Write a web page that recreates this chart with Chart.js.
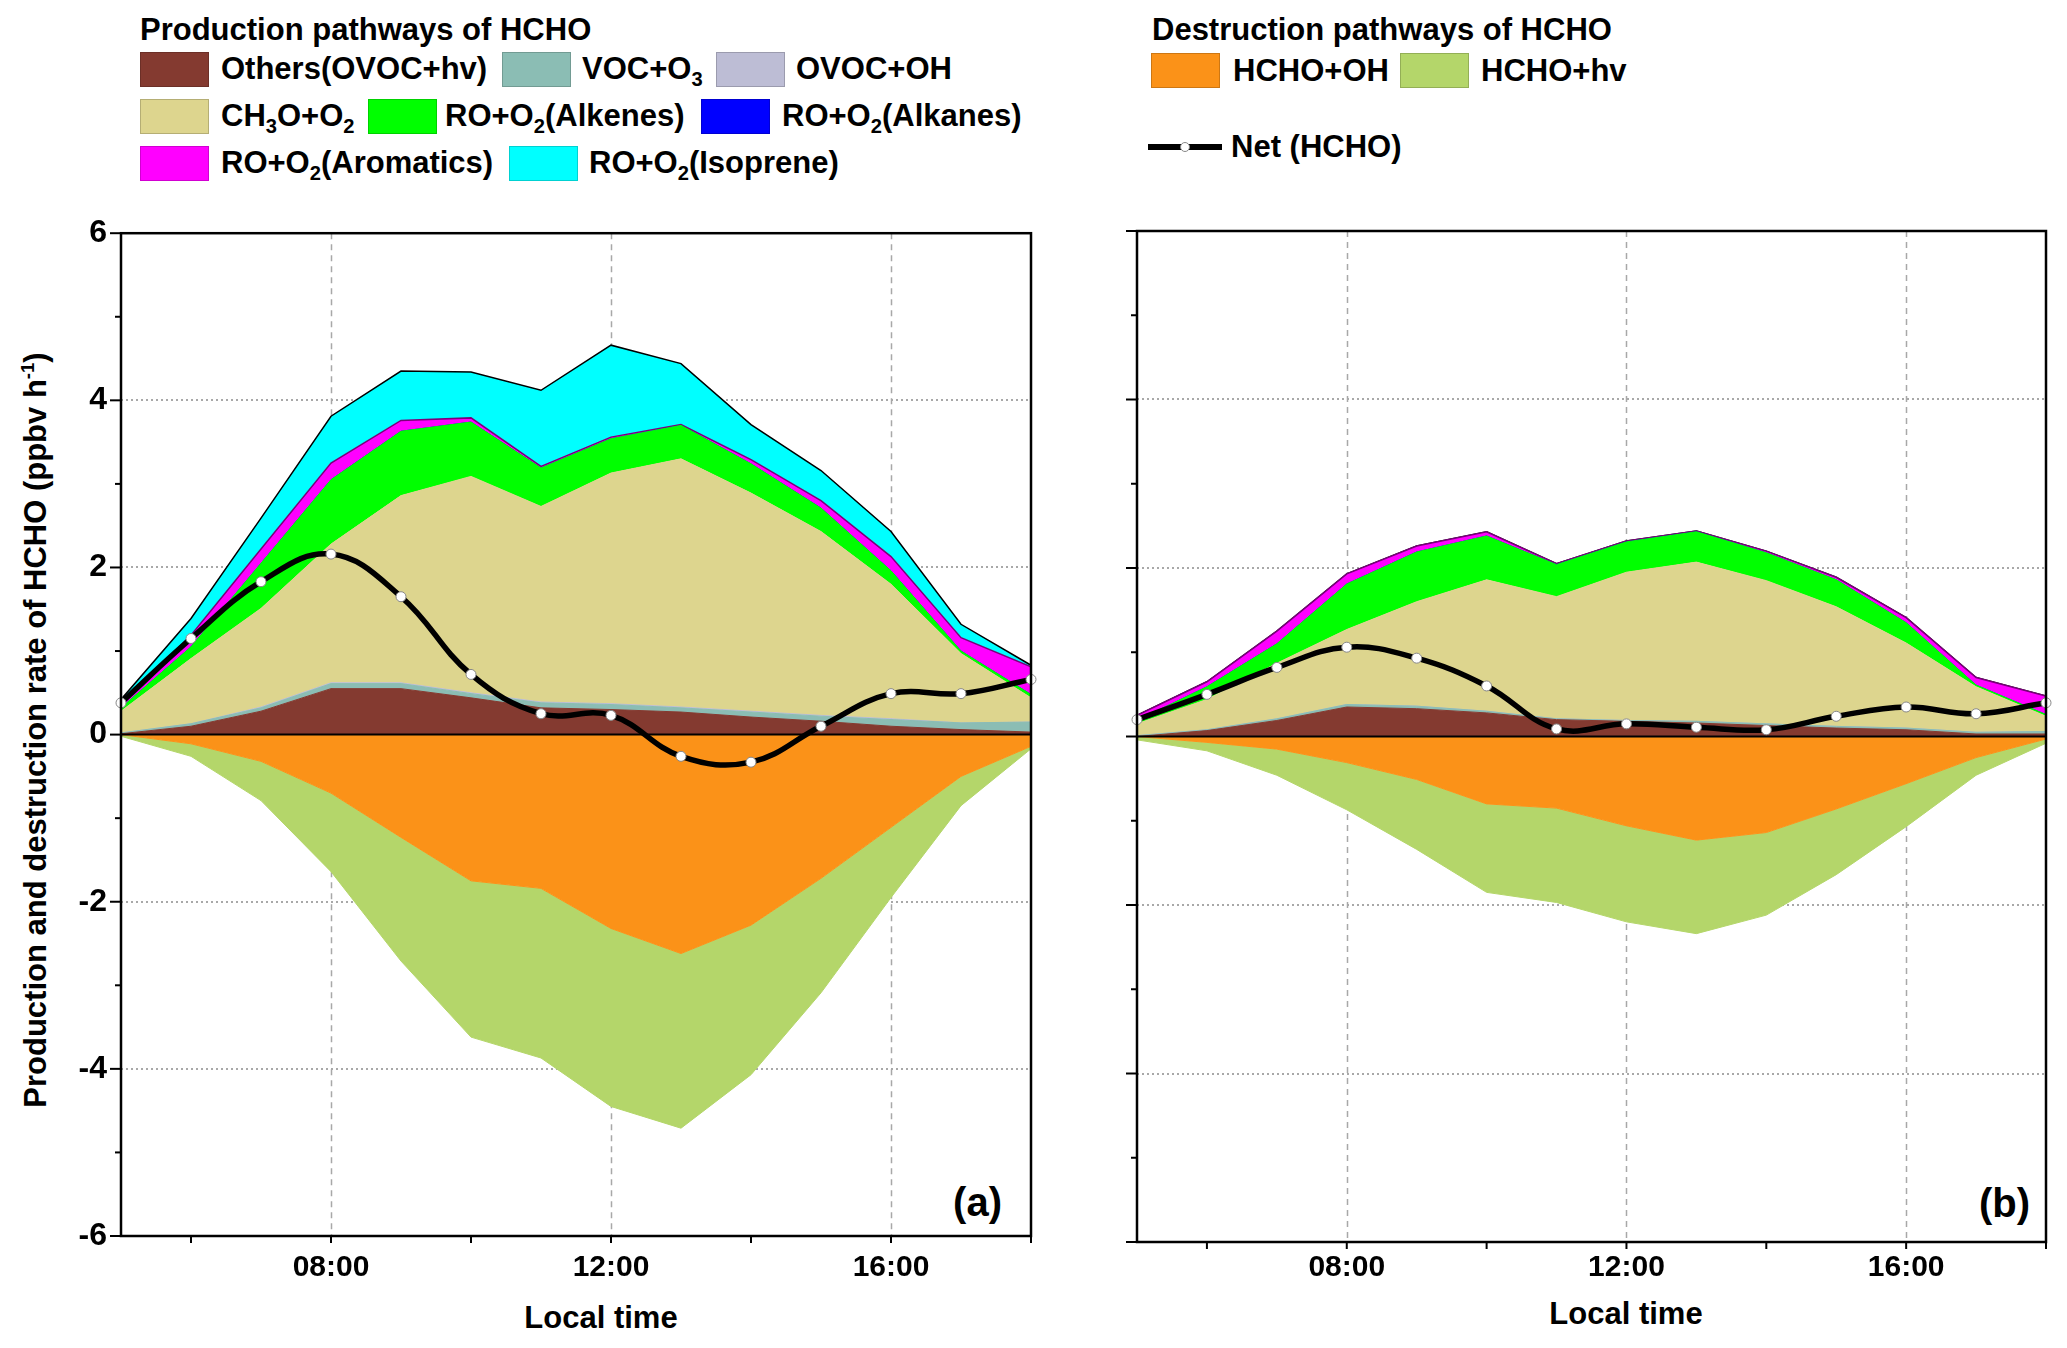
<!DOCTYPE html>
<html>
<head>
<meta charset="utf-8">
<script src="https://cdn.jsdelivr.net/npm/chart.js@4.4.1/dist/chart.umd.min.js"></script>
<style>
  body { margin: 0; background: #fff; }
  #page { position: relative; width: 2067px; height: 1348px; overflow: hidden;
          font-family: "Liberation Sans", Arial, sans-serif; font-weight: bold; color: #000; }
  .t { position: absolute; white-space: nowrap; font-size: 31px; line-height: 1; }
  .t sub { font-size: 65%; vertical-align: -0.35em; line-height: 0; }
  .t sup { font-size: 60%; vertical-align: 0.6em; line-height: 0; }
  .sw { position: absolute; width: 69px; height: 35px; box-sizing: border-box; border: 1px solid rgba(0,0,0,0.18); }
  canvas { position: absolute; }
</style>
</head>
<body>
<div id="page">
  <!-- production legend -->
  <div class="t" style="left:140px;top:14px">Production pathways of HCHO</div>
  <div class="sw" style="left:140px;top:52px;background:#843a30"></div>
  <div class="t" style="left:221px;top:53px">Others(OVOC+hv)</div>
  <div class="sw" style="left:502px;top:52px;background:#8bbdb4"></div>
  <div class="t" style="left:582px;top:53px">VOC+O<sub>3</sub></div>
  <div class="sw" style="left:716px;top:52px;background:#bdbdd5"></div>
  <div class="t" style="left:796px;top:53px">OVOC+OH</div>

  <div class="sw" style="left:140px;top:99px;background:#ddd58e"></div>
  <div class="t" style="left:221px;top:100px">CH<sub>3</sub>O+O<sub>2</sub></div>
  <div class="sw" style="left:368px;top:99px;background:#00ff00"></div>
  <div class="t" style="left:445px;top:100px">RO+O<sub>2</sub>(Alkenes)</div>
  <div class="sw" style="left:701px;top:99px;background:#0000ff"></div>
  <div class="t" style="left:782px;top:100px">RO+O<sub>2</sub>(Alkanes)</div>

  <div class="sw" style="left:140px;top:146px;background:#ff00ff"></div>
  <div class="t" style="left:221px;top:147px">RO+O<sub>2</sub>(Aromatics)</div>
  <div class="sw" style="left:509px;top:146px;background:#00ffff"></div>
  <div class="t" style="left:589px;top:147px">RO+O<sub>2</sub>(Isoprene)</div>

  <!-- destruction legend -->
  <div class="t" style="left:1152px;top:14px">Destruction pathways of HCHO</div>
  <div class="sw" style="left:1151px;top:53px;background:#fb9218"></div>
  <div class="t" style="left:1233px;top:55px">HCHO+OH</div>
  <div class="sw" style="left:1400px;top:53px;background:#b4d66a"></div>
  <div class="t" style="left:1481px;top:55px">HCHO+hv</div>

  <div style="position:absolute;left:1148px;top:144px;width:74px;height:6px;background:#000"></div>
  <div style="position:absolute;left:1180px;top:142px;width:8px;height:8px;border-radius:50%;background:#fff;border:1px solid #888"></div>
  <div class="t" style="left:1231px;top:131px">Net (HCHO)</div>

  <!-- axis titles and panel tags -->
  <div class="t" style="left:35px;top:730px;transform:translate(-50%,-50%) rotate(-90deg)">Production and destruction rate of HCHO (ppbv h<sup>-1</sup>)</div>
  <div class="t" style="left:601px;top:1302px;transform:translateX(-50%)">Local time</div>
  <div class="t" style="left:1626px;top:1298px;transform:translateX(-50%)">Local time</div>
  <div class="t" style="left:1002px;top:1182px;font-size:40px;transform:translateX(-100%)">(a)</div>
  <div class="t" style="left:2030px;top:1183px;font-size:40px;transform:translateX(-100%)">(b)</div>

  <canvas id="chartA" width="1060" height="1148" style="left:0;top:200px"></canvas>
  <canvas id="chartB" width="967" height="1148" style="left:1100px;top:200px"></canvas>
</div>

<script>
// hours of the day (local time)
const hours = [5, 6, 7, 8, 9, 10, 11, 12, 13, 14, 15, 16, 17, 18];
const xTickHours = [6, 8, 10, 12, 14, 16, 18];
const labeledHours = [8, 12, 16];
const yTickValues = [-6, -5, -4, -3, -2, -1, 0, 1, 2, 3, 4, 5, 6];
const yGridValues = [-4, -2, 2, 4];

// ---- panel (a), ppbv/h ----
const othersA    = [0.01, 0.10, 0.28, 0.55, 0.55, 0.44, 0.32, 0.30, 0.27, 0.21, 0.16, 0.10, 0.06, 0.03];
const vocO3A     = [0.01, 0.03, 0.04, 0.06, 0.06, 0.05, 0.06, 0.06, 0.05, 0.06, 0.06, 0.08, 0.08, 0.12];
const ovocOHA    = [0.00, 0.00, 0.01, 0.01, 0.01, 0.01, 0.01, 0.01, 0.01, 0.01, 0.01, 0.01, 0.00, 0.00];
const ch3oA      = [0.26, 0.78, 1.18, 1.66, 2.24, 2.59, 2.34, 2.76, 2.97, 2.61, 2.20, 1.61, 0.83, 0.29];
const alkenesA   = [0.04, 0.14, 0.54, 0.77, 0.77, 0.65, 0.46, 0.41, 0.40, 0.35, 0.28, 0.16, 0.03, 0.04];
const alkanesA   = [0.00, 0.00, 0.00, 0.00, 0.00, 0.00, 0.00, 0.00, 0.00, 0.00, 0.00, 0.00, 0.00, 0.00];
const aromaticsA = [0.04, 0.14, 0.17, 0.20, 0.13, 0.05, 0.02, 0.02, 0.01, 0.05, 0.09, 0.17, 0.16, 0.33];
const isopreneA  = [0.06, 0.20, 0.37, 0.56, 0.59, 0.55, 0.91, 1.10, 0.73, 0.42, 0.36, 0.30, 0.16, 0.02];
const hchoOHA    = [0.00, -0.11, -0.32, -0.70, -1.23, -1.75, -1.84, -2.32, -2.62, -2.28, -1.72, -1.11, -0.50, -0.14];
const hchoHvA    = [-0.02, -0.15, -0.47, -0.94, -1.48, -1.87, -2.03, -2.13, -2.09, -1.79, -1.37, -0.84, -0.35, -0.03];
const netA       = [0.38, 1.15, 1.83, 2.16, 1.65, 0.72, 0.25, 0.23, -0.26, -0.33, 0.10, 0.49, 0.49, 0.66];

// ---- panel (b), ppbv/h ----
const othersB    = [0.00, 0.07, 0.19, 0.35, 0.33, 0.28, 0.20, 0.18, 0.16, 0.13, 0.10, 0.08, 0.03, 0.03];
const vocO3B     = [0.01, 0.01, 0.02, 0.03, 0.03, 0.02, 0.01, 0.01, 0.02, 0.02, 0.02, 0.02, 0.02, 0.03];
const ovocOHB    = [0.00, 0.00, 0.00, 0.00, 0.00, 0.00, 0.00, 0.00, 0.00, 0.00, 0.00, 0.00, 0.00, 0.00];
const ch3oB      = [0.14, 0.36, 0.66, 0.89, 1.24, 1.56, 1.45, 1.76, 1.89, 1.70, 1.42, 1.01, 0.54, 0.18];
const alkenesB   = [0.04, 0.15, 0.23, 0.54, 0.59, 0.52, 0.38, 0.36, 0.36, 0.33, 0.32, 0.24, 0.02, 0.02];
const alkanesB   = [0.00, 0.00, 0.00, 0.00, 0.00, 0.00, 0.00, 0.00, 0.00, 0.00, 0.00, 0.00, 0.00, 0.00];
const aromaticsB = [0.06, 0.06, 0.15, 0.12, 0.07, 0.05, 0.01, 0.01, 0.01, 0.02, 0.03, 0.06, 0.09, 0.22];
const isopreneB  = [0.00, 0.00, 0.00, 0.00, 0.00, 0.00, 0.00, 0.00, 0.00, 0.00, 0.00, 0.00, 0.00, 0.00];
const hchoOHB    = [0.00, -0.07, -0.15, -0.31, -0.51, -0.80, -0.85, -1.06, -1.23, -1.14, -0.86, -0.56, -0.25, -0.03];
const hchoHvB    = [-0.04, -0.10, -0.31, -0.56, -0.83, -1.05, -1.12, -1.14, -1.11, -0.98, -0.78, -0.51, -0.21, -0.05];
const netB       = [0.20, 0.50, 0.82, 1.06, 0.93, 0.60, 0.09, 0.15, 0.11, 0.08, 0.24, 0.35, 0.27, 0.40];

const FONT = "'Liberation Sans', Arial, sans-serif";

function pts(values) {
  return hours.map((h, i) => ({ x: h, y: values[i] }));
}

function area(label, values, color, stack, fill, line) {
  return {
    label, data: pts(values), stack, fill,
    backgroundColor: color,
    borderColor: line || color,
    borderWidth: line ? 1.5 : 1,
    pointRadius: 0, tension: 0
  };
}

function netLine(values) {
  return {
    label: "Net (HCHO)", data: pts(values), stack: "net", fill: false,
    borderColor: "#000", borderWidth: 5.5, tension: 0.4,
    pointRadius: 5, pointBackgroundColor: "#fff", pointBorderColor: "#888", pointBorderWidth: 1,
    clip: false
  };
}

// grid, zero line, ticks and frame, drawn through the chart's own scales
const decoPlugin = {
  id: "deco",
  beforeDatasetsDraw(chart) {
    const { ctx, chartArea: a, scales: { x, y } } = chart;
    ctx.save();
    ctx.strokeStyle = "#a8a8a8";
    ctx.lineWidth = 1.5;
    ctx.setLineDash([6, 5]);
    labeledHours.forEach(h => {
      const px = Math.round(x.getPixelForValue(h)) + 0.5;
      ctx.beginPath(); ctx.moveTo(px, a.top); ctx.lineTo(px, a.bottom); ctx.stroke();
    });
    ctx.setLineDash([2, 3]);
    ctx.lineWidth = 2;
    yGridValues.forEach(v => {
      const py = Math.round(y.getPixelForValue(v));
      ctx.beginPath(); ctx.moveTo(a.left, py); ctx.lineTo(a.right, py); ctx.stroke();
    });
    ctx.restore();
  },
  afterDatasetDraw(chart, args) {
    if (args.index !== 1) return;
    const { ctx, chartArea: a, scales: { y } } = chart;
    const py = y.getPixelForValue(0);
    ctx.save();
    ctx.strokeStyle = "#000";
    ctx.lineWidth = 2;
    ctx.beginPath(); ctx.moveTo(a.left, py); ctx.lineTo(a.right, py); ctx.stroke();
    ctx.restore();
  },
  afterDraw(chart) {
    const { ctx, chartArea: a, scales: { x, y } } = chart;
    ctx.save();
    ctx.strokeStyle = "#000";
    ctx.lineWidth = 2;
    yTickValues.forEach(v => {
      const py = y.getPixelForValue(v);
      const len = v % 2 === 0 ? 11 : 6;
      ctx.beginPath(); ctx.moveTo(a.left - len, py); ctx.lineTo(a.left, py); ctx.stroke();
    });
    xTickHours.forEach(h => {
      const px = x.getPixelForValue(h);
      ctx.beginPath(); ctx.moveTo(px, a.bottom); ctx.lineTo(px, a.bottom + 7); ctx.stroke();
    });
    ctx.lineWidth = 2.5;
    ctx.strokeRect(a.left, a.top, a.right - a.left, a.bottom - a.top);
    ctx.restore();
  }
};

function makeChart(id, s, cfg) {
  const datasets = [
    netLine(s.net),
    area("Others(OVOC+hv)", s.others, "#843a30", "prod", "origin"),
    area("VOC+O3", s.vocO3, "#8bbdb4", "prod", "-1"),
    area("OVOC+OH", s.ovocOH, "#bdbdd5", "prod", "-1"),
    area("CH3O+O2", s.ch3o, "#ddd58e", "prod", "-1"),
    area("RO+O2(Alkenes)", s.alkenes, "#00ff00", "prod", "-1"),
    area("RO+O2(Alkanes)", s.alkanes, "#0000ff", "prod", "-1"),
    area("RO+O2(Aromatics)", s.aromatics, "#ff00ff", "prod", "-1", "#7a007a"),
    area("RO+O2(Isoprene)", s.isoprene, "#00ffff", "prod", "-1", "#000"),
    area("HCHO+OH", s.hchoOH, "#fb9218", "dest", "origin"),
    area("HCHO+hv", s.hchoHv, "#b4d66a", "dest", "-1")
  ];

  return new Chart(document.getElementById(id), {
    type: "line",
    data: { datasets },
    plugins: [decoPlugin],
    options: {
      responsive: false,
      animation: false,
      devicePixelRatio: 1,
      layout: { padding: { left: 0, right: cfg.padRight, top: cfg.padTop, bottom: 0 } },
      plugins: { legend: { display: false }, tooltip: { enabled: false } },
      scales: {
        x: {
          type: "linear", min: 5, max: 18,
          grid: { display: false, drawTicks: false, tickLength: 0 },
          border: { display: false },
          afterBuildTicks: sc => { sc.ticks = xTickHours.map(v => ({ value: v })); },
          afterFit: sc => { sc.height = cfg.xHeight; },
          ticks: {
            autoSkip: false, maxRotation: 0, padding: cfg.xPad, color: "#000",
            font: { family: FONT, size: 30, weight: "bold" },
            callback: v => labeledHours.includes(v) ? String(v).padStart(2, "0") + ":00" : ""
          }
        },
        y: {
          type: "linear", min: -6, max: 6, stacked: true,
          grid: { display: false, drawTicks: false, tickLength: 0 },
          border: { display: false },
          afterBuildTicks: sc => { sc.ticks = yTickValues.map(v => ({ value: v })); },
          afterFit: sc => { sc.width = cfg.yWidth; },
          ticks: {
            display: cfg.yLabels, autoSkip: false, padding: 14, color: "#000",
            font: { family: FONT, size: 32, weight: "bold" },
            callback: v => v % 2 === 0 ? String(v) : ""
          }
        }
      }
    }
  });
}

makeChart("chartA", {
  others: othersA, vocO3: vocO3A, ovocOH: ovocOHA, ch3o: ch3oA, alkenes: alkenesA,
  alkanes: alkanesA, aromatics: aromaticsA, isoprene: isopreneA,
  hchoOH: hchoOHA, hchoHv: hchoHvA, net: netA
}, { padRight: 29, padTop: 24, xHeight: 112, yWidth: 121, xPad: 14, yLabels: true });

makeChart("chartB", {
  others: othersB, vocO3: vocO3B, ovocOH: ovocOHB, ch3o: ch3oB, alkenes: alkenesB,
  alkanes: alkanesB, aromatics: aromaticsB, isoprene: isopreneB,
  hchoOH: hchoOHB, hchoHv: hchoHvB, net: netB
}, { padRight: 21, padTop: 31, xHeight: 106, yWidth: 37, xPad: 8, yLabels: false });
</script>
</body>
</html>
